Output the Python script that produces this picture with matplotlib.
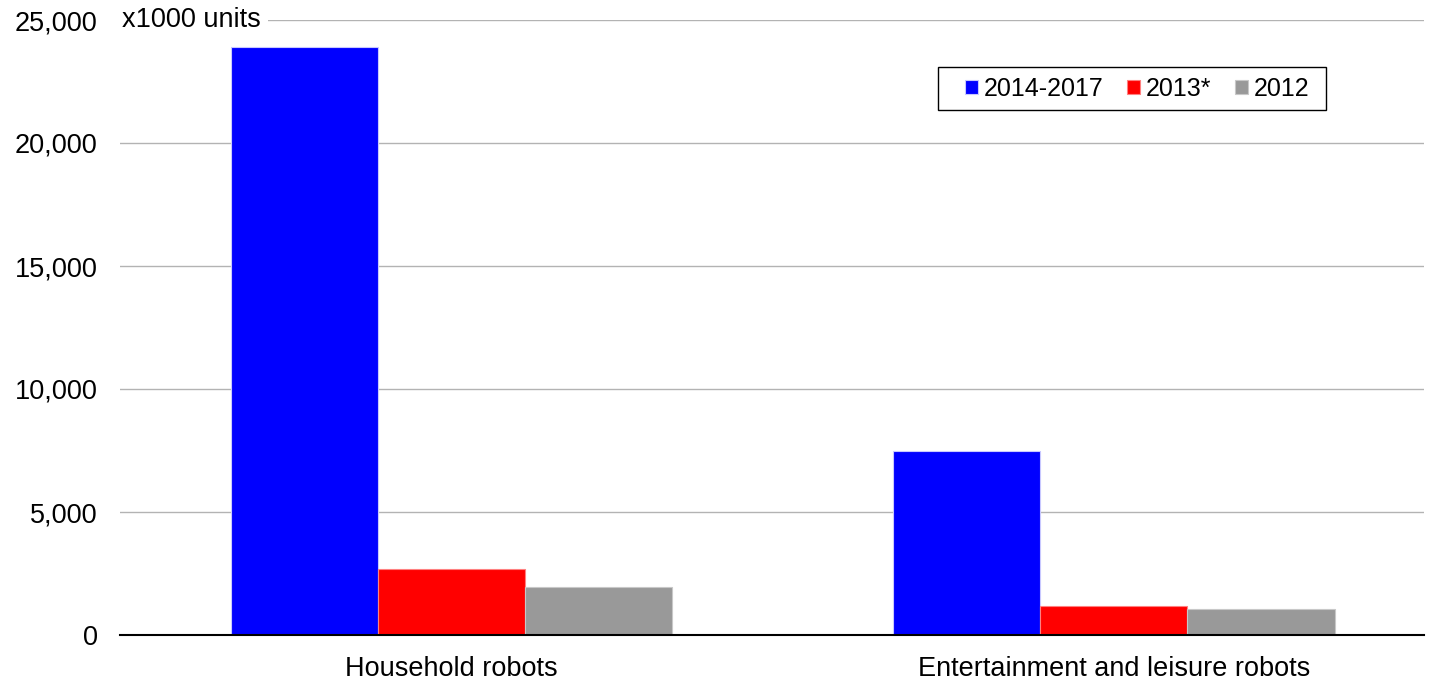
import numpy as np
import matplotlib.pyplot as plt
from matplotlib.patches import Rectangle

plt.rcParams['font.family'] = ['Liberation Sans', 'DejaVu Sans']

categories = ['Household robots', 'Entertainment and leisure robots']
series = ['2014-2017', '2013*', '2012']
values = {
    '2014-2017': [23900, 7480],
    '2013*': [2690, 1180],
    '2012': [1940, 1060],
}
colors = ['#0000ff', '#ff0000', '#999999']
edges = ['#c8c8ff', '#ff8080', '#c8c8c8']

W, H = 1439, 681
fig = plt.figure(figsize=(W / 100, H / 100), dpi=100)
ax = fig.add_axes([120/W, 1 - 635/H, 1304/W, 615/H])

x = np.arange(len(categories))
w = 0.222
for i, s in enumerate(series):
    ax.bar(x + (i - 1) * w, values[s], w, color=colors[i], edgecolor=edges[i],
           linewidth=0.8, label=s, zorder=3)

ax.set_xlim(-0.5, 1.468)
ax.set_ylim(0, 25000)
ax.set_yticks(np.arange(0, 25001, 5000))
ax.set_yticklabels([f'{v:,}' for v in range(0, 25001, 5000)])
ax.set_xticks(x)
ax.set_xticklabels(categories)
ax.tick_params(axis='both', length=0, labelsize=19.5)
ax.tick_params(axis='y', pad=16)
ax.tick_params(axis='x', pad=15)
ax.yaxis.grid(True, color='#b3b3b3', linewidth=1, zorder=0)
for sp in ['top', 'right', 'left']:
    ax.spines[sp].set_visible(False)
ax.spines['bottom'].set_color('black')
ax.spines['bottom'].set_linewidth(1.5)
ax.spines['bottom'].set_zorder(4)

ax.text(-0.497, 25000, 'x1000 units', fontsize=19.5, ha='left', va='center',
        bbox=dict(facecolor='white', edgecolor='none', pad=5), zorder=5)

# legend box drawn separately so the padding matches the original
box = Rectangle((938/W, 1 - 110/H), 388/W, 43/H, transform=fig.transFigure,
                facecolor='white', edgecolor='black', linewidth=1, zorder=5)
ax.add_artist(box)
leg = ax.legend(loc='center left', bbox_to_anchor=(965/W, 1 - 89/H),
                bbox_transform=fig.transFigure, ncol=3, fontsize=18, frameon=False,
                handlelength=0.5, handleheight=0.5, handletextpad=0.25,
                columnspacing=0.95, borderpad=0, borderaxespad=0)
leg.set_zorder(6)

fig.savefig('out.png', dpi=100)
